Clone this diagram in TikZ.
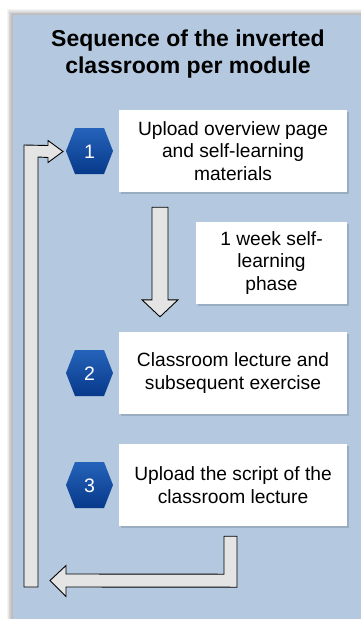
\documentclass[tikz,border=0pt]{standalone}
\usepackage{fontspec}
\setmainfont{Liberation Sans}
\usetikzlibrary{calc}
\definecolor{panelblue}{HTML}{B4C9E0}
\definecolor{hextop}{HTML}{2563BA}
\definecolor{hexbot}{HTML}{07398A}
\definecolor{arrowgray}{HTML}{E4E4E4}
\tikzset{
  stepbox/.style={fill=white, inner sep=0pt, align=center,
    font=\fontsize{19.2}{22.5}\selectfont},
  hexnum/.style={text=white, inner sep=0pt, font=\fontsize{19.5}{22}\selectfont},
  blockarrow/.style={fill=arrowgray, draw=black, line width=0.9pt, line join=miter},
  hexfill/.style={top color=hextop, bottom color=hexbot},
  titletext/.style={align=center, font=\bfseries\fontsize{23}{27}\selectfont}
}
\begin{document}
\begin{tikzpicture}[x=1pt, y=-1pt]
\useasboundingbox (0,0) rectangle (361,619);
% soft shadow above and left of the panel
\foreach \k in {0,...,7}{
  \fill[black, opacity=0.045] ({13-\k*0.9},{15-\k*0.8}) rectangle (361,619);
}
% panel
\fill[panelblue] (13,15) rectangle (361,619);
\node[titletext] (title) at (188,54.5) {Sequence of the inverted\\classroom per module};

% step boxes with a light shadow
\foreach \nm/\cx/\cy/\w in {b1/233/151/228, wk/271.5/263/151, b2/233/373/228, b3/233/485/228}{
  \fill[black, opacity=0.14] ({\cx-\w/2+2},{\cy-41+2}) rectangle ({\cx+\w/2+2},{\cy+41+2});
}
\node[stepbox, minimum width=228pt, minimum height=82pt] (b1) at (233,151)
  {Upload overview page\\and self-learning\\materials};
\node[stepbox, minimum width=151pt, minimum height=82pt] (wk) at (271.5,263)
  {1 week self-\\learning\\phase};
\node[stepbox, minimum width=228pt, minimum height=82pt] (b2) at (233,373)
  {Classroom lecture and\\subsequent exercise};
\node[stepbox, minimum width=228pt, minimum height=82pt] (b3) at (233,485)
  {Upload the script of the\\classroom lecture};

% numbered hexagons
\foreach \n/\y in {1/151, 2/373, 3/485}{
  \shade[hexfill] (66,\y) -- (75,{\y-23}) -- (104,{\y-23}) -- (113,\y)
    -- (104,{\y+23}) -- (75,{\y+23}) -- cycle;
  \node[hexnum] (h\n) at (89.5,{\y+0.5}) {\n};
}

% downward block arrow between step 1 and step 2
\coordinate (dtop) at ($(b1.south)+(-73,15)$);
\coordinate (dtip) at ($(b2.north)+(-73,-15)$);
\draw[blockarrow] ($(dtop)+(-8,0)$) -- ($(dtop)+(8,0)$) -- ($(dtip)+(8,-17)$)
  -- ($(dtip)+(18,-17)$) -- (dtip) -- ($(dtip)+(-18,-17)$)
  -- ($(dtip)+(-8,-17)$) -- cycle;

% return arrow from step 3 back to the left
\coordinate (rtop) at ($(b3.south)+(-2.5,10)$);
\coordinate (rtip) at (50,580.5);
\draw[blockarrow] ($(rtop)+(-6.5,0)$) -- ($(rtop)+(6.5,0)$) -- ($(rtop)+(6.5,51)$)
  -- ($(rtip)+(16,6.5)$) -- ($(rtip)+(16,16)$) -- (rtip) -- ($(rtip)+(16,-15)$)
  -- ($(rtip)+(16,-6.5)$) -- ($(rtop)+(-6.5,38)$) -- cycle;

% rising arrow into step 1
\coordinate (utip) at ($(h1.center)+(-26.5,0)$);
\draw[blockarrow] (24,587) -- (24,{151-6}) -- ($(utip)+(-15,-6)$) -- ($(utip)+(-15,-11)$)
  -- (utip) -- ($(utip)+(-15,11)$) -- ($(utip)+(-15,6)$) -- (38,{151+6}) -- (38,587) -- cycle;
\end{tikzpicture}
\end{document}
